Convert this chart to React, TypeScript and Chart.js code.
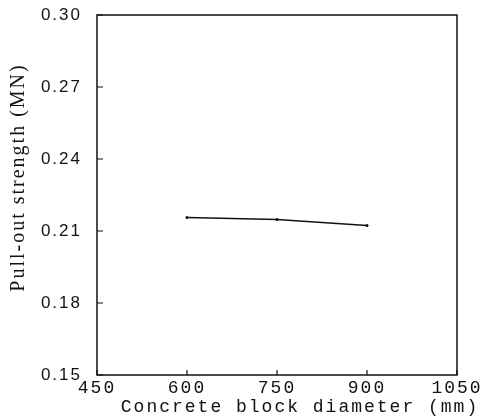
import React, { useEffect, useRef } from "react";
import { Chart, registerables } from "chart.js";

Chart.register(...registerables);

const diameters = [600, 750, 900];
const strengths = [0.2156, 0.2148, 0.2123];
const xTicks = [450, 600, 750, 900, 1050];
const yTicks = [0.15, 0.18, 0.21, 0.24, 0.27, 0.3];
const xTitle = "Concrete block diameter (mm)";
const yTitle = "     Pull-out strength (MN)";

const framePlugin = {
  id: "frame",
  beforeDraw(chart: any) {
    chart.ctx.letterSpacing = "2px";
  },
  afterDraw(chart: any) {
    const { ctx, chartArea: a, scales } = chart;
    ctx.save();
    ctx.strokeStyle = "#111";
    ctx.lineWidth = 1.5;
    ctx.strokeRect(a.left, a.top, a.right - a.left, a.bottom - a.top);
    ctx.lineWidth = 1.2;
    ctx.beginPath();
    for (const v of xTicks) {
      const px = scales.x.getPixelForValue(v);
      ctx.moveTo(px, a.bottom);
      ctx.lineTo(px, a.bottom - 5);
    }
    for (const v of yTicks) {
      const py = scales.y.getPixelForValue(v);
      ctx.moveTo(a.left, py);
      ctx.lineTo(a.left + 6, py);
    }
    ctx.stroke();
    // x-axis title (drawn here so it is not squeezed to the axis width)
    ctx.fillStyle = "#111";
    ctx.font = "18px 'Liberation Mono'";
    ctx.letterSpacing = "2px";
    ctx.textAlign = "center";
    ctx.textBaseline = "middle";
    ctx.fillText(xTitle, (a.left + a.right) / 2 + 23, scales.x.bottom - 12);
    ctx.restore();
  },
};

export default function App() {
  const ref = useRef<HTMLCanvasElement>(null);
  useEffect(() => {
    if (!ref.current) return;
    const chart = new Chart(ref.current, {
      type: "line",
      data: {
        datasets: [
          {
            data: diameters.map((d, i) => ({ x: d, y: strengths[i] })),
            borderColor: "#111",
            backgroundColor: "#111",
            borderWidth: 1.4,
            pointRadius: 1.5,
            pointBorderWidth: 0,
            tension: 0,
            fill: false,
          },
        ],
      },
      options: {
        responsive: false,
        animation: false,
        layout: { padding: { top: 15, right: 29, left: 0, bottom: 0 } },
        plugins: { legend: { display: false }, tooltip: { enabled: false } },
        scales: {
          x: {
            type: "linear",
            min: 450,
            max: 1050,
            afterFit: (s: any) => {
              s.height = 44;
              s.paddingLeft = 0;
              s.paddingRight = 0;
            },
            afterBuildTicks: (s: any) => {
              s.ticks = xTicks.map((v) => ({ value: v }));
            },
            grid: { display: false, drawTicks: false },
            border: { display: false },
            ticks: {
              color: "#111",
              padding: 2,
              maxRotation: 0,
              autoSkip: false,
              font: { family: "Liberation Mono", size: 18 },
              callback: (v: any) => String(v),
            },
            title: { display: false },
          },
          y: {
            type: "linear",
            min: 0.15,
            max: 0.3,
            afterFit: (s: any) => {
              s.width = 97;
              s.paddingTop = 0;
              s.paddingBottom = 0;
            },
            afterBuildTicks: (s: any) => {
              s.ticks = yTicks.map((v) => ({ value: v }));
            },
            grid: { display: false, drawTicks: false },
            border: { display: false },
            ticks: {
              color: "#111",
              padding: 15,
              autoSkip: false,
              font: { family: "Liberation Sans", size: 17 },
              callback: (v: any) => Number(v).toFixed(2),
            },
            title: {
              display: true,
              text: yTitle,
              color: "#111",
              padding: { top: 7, bottom: 0 },
              font: { family: "Liberation Serif", size: 20 },
            },
          },
        },
      },
      plugins: [framePlugin],
    });
    return () => chart.destroy();
  }, []);
  return (
    <div style={{ position: "absolute", left: 0, top: 0, width: 486, height: 419, background: "#fff" }}>
      <canvas ref={ref} width={486} height={419} style={{ display: "block" }} />
    </div>
  );
}
